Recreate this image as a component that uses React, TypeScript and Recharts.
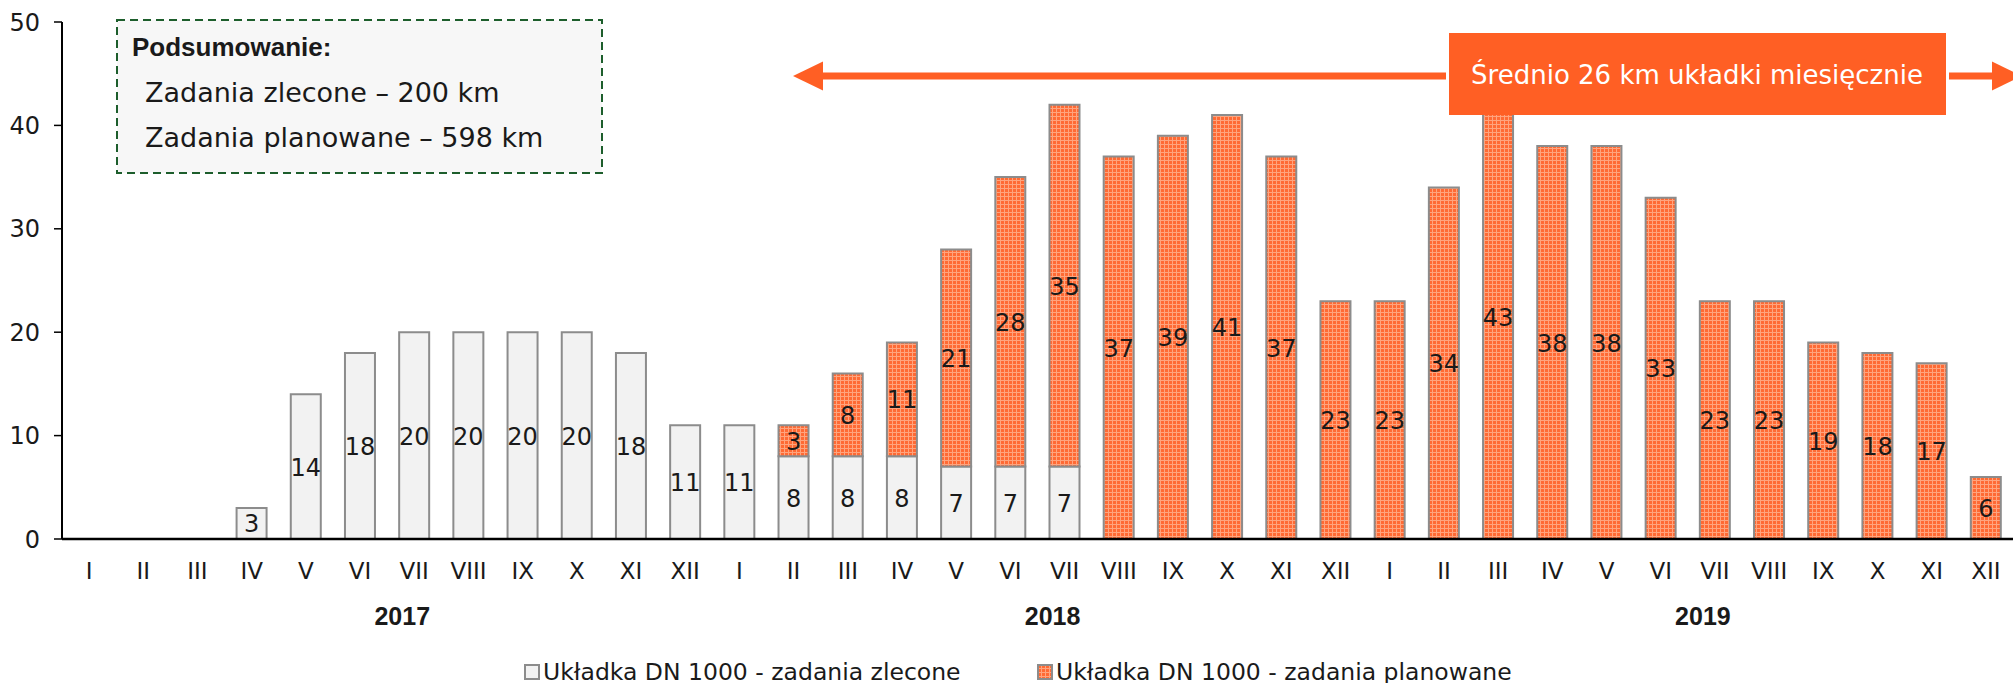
import React from "react";
import { BarChart, Bar, XAxis, YAxis, LabelList, Legend } from "recharts";

const MONTHS = ["I", "II", "III", "IV", "V", "VI", "VII", "VIII", "IX", "X", "XI", "XII"];
const YEARS = ["2017", "2018", "2019"];

// km per month, Jan 2017 .. Dec 2019
const ZLECONE = [
  null, null, null, 3, 14, 18, 20, 20, 20, 20, 18, 11,
  11, 8, 8, 8, 7, 7, 7, null, null, null, null, null,
  null, null, null, null, null, null, null, null, null, null, null, null,
];
const PLANOWANE = [
  null, null, null, null, null, null, null, null, null, null, null, null,
  null, 3, 8, 11, 21, 28, 35, 37, 39, 41, 37, 23,
  23, 34, 43, 38, 38, 33, 23, 23, 19, 18, 17, 6,
];
const Y_TICKS = [0, 10, 20, 30, 40, 50];

const SERIES_NAMES = ["Układka DN 1000 - zadania zlecone", "Układka DN 1000 - zadania planowane"];
const SUMMARY_TITLE = "Podsumowanie:";
const SUMMARY_LINES = ["Zadania zlecone – 200 km", "Zadania planowane – 598 km"];
const AVERAGE_NOTE = "Średnio 26 km układki miesięcznie";

const FONT = "'DejaVu Sans', sans-serif";
const BOLD_FONT = "'Liberation Sans', Arial, sans-serif";
const ORANGE = "#ff5f24";
const BAR_STROKE = "#8c8c8c";
const GREY_FILL = "#f2f2f2";
const TEXT = "#1a1a1a";

const data = ZLECONE.map((z, i) => ({
  key: `${YEARS[Math.floor(i / 12)]}-${MONTHS[i % 12]}`,
  month: MONTHS[i % 12],
  year: YEARS[Math.floor(i / 12)],
  zlecone: z,
  planowane: PLANOWANE[i],
}));

const MonthTick = (props: any) => {
  const { x, y, payload } = props;
  const row = data[payload.index];
  if (!row) return null;
  return (
    <g>
      <text x={x} y={y + 40} textAnchor="middle" fontFamily={FONT} fontSize={23} fill={TEXT}>
        {row.month}
      </text>
      {row.month === "VII" && (
        <text x={x - 12} y={y + 86} textAnchor="middle" fontFamily={BOLD_FONT} fontWeight="bold" fontSize={25} fill={TEXT}>
          {row.year}
        </text>
      )}
    </g>
  );
};

const ValueLabel = (props: any) => {
  const vb = props.viewBox || props;
  const { x, y, width, height } = vb;
  const { value } = props;
  if (value == null || value === 0) return null;
  return (
    <text
      x={x + width / 2}
      y={y + height / 2 + 9}
      textAnchor="middle"
      fontFamily={FONT}
      fontSize={24}
      fill={TEXT}
    >
      {value}
    </text>
  );
};

const LegendContent = () => (
  <div
    style={{
      display: "flex",
      alignItems: "center",
      height: 22,
      paddingLeft: 524,
      fontFamily: FONT,
      fontSize: 23.5,
      color: TEXT,
      whiteSpace: "nowrap",
    }}
  >
    <div style={{ display: "flex", alignItems: "center", width: 513 }}>
      <svg width={16} height={16} style={{ marginRight: 3 }}>
        <rect x={1} y={1} width={14} height={14} fill={GREY_FILL} stroke={BAR_STROKE} strokeWidth={2} />
      </svg>
      <span>{SERIES_NAMES[0]}</span>
    </div>
    <div style={{ display: "flex", alignItems: "center" }}>
      <svg width={16} height={16} style={{ marginRight: 3 }}>
        <rect x={1} y={1} width={14} height={14} fill="url(#orangeGrid)" stroke={BAR_STROKE} strokeWidth={2} />
      </svg>
      <span>{SERIES_NAMES[1]}</span>
    </div>
  </div>
);

export default function App() {
  return (
    <div style={{ position: "absolute", left: 0, top: 0, width: 2013, height: 683, background: "#fff" }}>
      <BarChart
        width={2013}
        height={683}
        data={data}
        margin={{ top: 22, right: 0, left: 0, bottom: 0 }}
        barSize={30}
      >
        <defs>
          <pattern id="orangeGrid" width={4} height={4} patternUnits="userSpaceOnUse">
            <rect width={4} height={4} fill="#ff6a34" />
            <rect x={0} y={0} width={4} height={1} fill="#ffa47e" />
            <rect x={0} y={0} width={1} height={4} fill="#ffa47e" />
          </pattern>
        </defs>
        <XAxis
          dataKey="key"
          interval={0}
          height={122}
          tickLine={false}
          tickSize={0}
          tickMargin={0}
          axisLine={{ stroke: "#000", strokeWidth: 2.5 }}
          tick={<MonthTick />}
        />
        <YAxis
          width={62}
          domain={[0, 50]}
          ticks={Y_TICKS}
          interval={0}
          tickSize={8}
          tickMargin={14}
          axisLine={{ stroke: "#000", strokeWidth: 2 }}
          tickLine={{ stroke: "#000", strokeWidth: 1.5 }}
          tick={{ fontFamily: FONT, fontSize: 24, fill: TEXT }}
        />
        <Legend verticalAlign="bottom" height={22} wrapperStyle={{ left: 0, width: 2013 }} content={<LegendContent />} />
        <Bar
          dataKey="zlecone"
          name={SERIES_NAMES[0]}
          stackId="a"
          fill={GREY_FILL}
          stroke={BAR_STROKE}
          strokeWidth={2}
          isAnimationActive={false}
        >
          <LabelList dataKey="zlecone" content={<ValueLabel />} />
        </Bar>
        <Bar
          dataKey="planowane"
          name={SERIES_NAMES[1]}
          stackId="a"
          fill="url(#orangeGrid)"
          stroke={BAR_STROKE}
          strokeWidth={2}
          isAnimationActive={false}
        >
          <LabelList dataKey="planowane" content={<ValueLabel />} />
        </Bar>
      </BarChart>

      {/* annotations drawn over the chart */}
      <svg
        width={2013}
        height={683}
        style={{ position: "absolute", left: 0, top: 0, pointerEvents: "none" }}
      >
        <rect x={117} y={20} width={485} height={153} fill="#f7f7f7" stroke="#1d5e2c" strokeWidth={2} strokeDasharray="8 5" />
        <text x={132} y={56} fontFamily={BOLD_FONT} fontWeight="bold" fontSize={26} fill={TEXT}>
          {SUMMARY_TITLE}
        </text>
        <text x={145} y={102} fontFamily={FONT} fontSize={27} fill={TEXT}>
          {SUMMARY_LINES[0]}
        </text>
        <text x={145} y={147} fontFamily={FONT} fontSize={27} fill={TEXT}>
          {SUMMARY_LINES[1]}
        </text>

        <rect x={823} y={72.5} width={623} height={7} fill={ORANGE} />
        <polygon points="793,76 823,61.5 823,90.5" fill={ORANGE} />
        <rect x={1949} y={72.5} width={43} height={7} fill={ORANGE} />
        <polygon points="1992,61.5 1992,90.5 2022,76" fill={ORANGE} />
        <rect x={1449} y={33} width={497} height={82} fill={ORANGE} />
        <text x={1697} y={84} textAnchor="middle" fontFamily={FONT} fontSize={26} fill="#fff">
          {AVERAGE_NOTE}
        </text>
      </svg>
    </div>
  );
}
